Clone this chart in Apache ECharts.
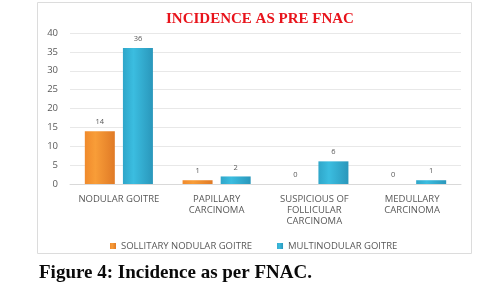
<!DOCTYPE html>
<html>
<head>
<meta charset="utf-8">
<script src="https://cdn.jsdelivr.net/npm/echarts@6/dist/echarts.min.js"></script>
<style>
  html, body { margin: 0; padding: 0; background: #fff; }
  #main { width: 502px; height: 307px; }
</style>
</head>
<body>
<div id="main"></div>
<script>
// values
var categories = ['NODULAR GOITRE', 'PAPILLARY\nCARCINOMA', 'SUSPICIOUS OF\nFOLLICULAR\nCARCINOMA', 'MEDULLARY\nCARCINOMA'];
var solitary = [14, 1, 0, 0];
var multinodular = [36, 2, 6, 1];
var seriesNames = ['SOLLITARY NODULAR GOITRE', 'MULTINODULAR GOITRE'];
var yMax = 40;
var yStep = 5;

var orangeFill = new echarts.graphic.LinearGradient(0, 0, 1, 0, [
  {offset: 0, color: '#f08a2c'},
  {offset: 0.35, color: '#f89d38'},
  {offset: 1, color: '#e07a26'}
]);
var blueFill = new echarts.graphic.LinearGradient(0, 0, 1, 0, [
  {offset: 0, color: '#2fa6c9'},
  {offset: 0.35, color: '#3bbde0'},
  {offset: 1, color: '#2a97bb'}
]);

var labelStyle = {show: true, position: 'top', distance: 5, fontSize: 7.5, color: '#595959', fontFamily: 'Open Sans'};

var option = {
  backgroundColor: '#fff',
  animation: false,
  title: {
    text: 'INCIDENCE AS PRE FNAC',
    left: 161,
    top: 7,
    textStyle: {fontFamily: 'Liberation Serif', fontWeight: 'bold', fontSize: 15, color: '#e8141c'}
  },
  legend: {
    data: seriesNames,
    top: 236,
    left: 105,
    itemWidth: 6,
    itemHeight: 6,
    itemGap: 25,
    icon: 'rect',
    textStyle: {fontSize: 9.5, color: '#595959', fontFamily: 'Open Sans'}
  },
  grid: {left: 70, right: 41, top: 33, bottom: 123, containLabel: false},
  xAxis: {
    type: 'category',
    data: categories,
    axisLine: {lineStyle: {color: '#d9d9d9'}},
    axisTick: {show: false},
    axisLabel: {interval: 0, fontSize: 9.5, lineHeight: 11, margin: 10, color: '#595959', fontFamily: 'Open Sans'}
  },
  yAxis: {
    type: 'value',
    min: 0,
    max: yMax,
    interval: yStep,
    axisLine: {show: false},
    axisTick: {show: false},
    axisLabel: {fontSize: 9.5, margin: 12, color: '#595959', fontFamily: 'Open Sans'},
    splitLine: {lineStyle: {color: '#e8e8e8'}}
  },
  series: [
    {
      name: seriesNames[0],
      type: 'bar',
      data: solitary,
      barWidth: 30,
      barGap: '27%',
      itemStyle: {color: orangeFill},
      label: labelStyle
    },
    {
      name: seriesNames[1],
      type: 'bar',
      data: multinodular,
      barWidth: 30,
      itemStyle: {color: blueFill},
      label: labelStyle
    }
  ],
  color: ['#f08a2c', '#35b2d6'],
  graphic: [
    {
      type: 'rect',
      shape: {x: 37.5, y: 2.5, width: 434, height: 251},
      style: {fill: 'none', stroke: '#dcdcdc', lineWidth: 1},
      silent: true,
      z: -1
    },
    {
      type: 'text',
      left: 39,
      top: 264,
      style: {text: 'Figure 4: Incidence as per FNAC.', font: 'bold 19px "Liberation Serif"', fill: '#0a0a0a'}
    }
  ]
};

var myChart = echarts.init(document.getElementById('main'));
myChart.setOption(option);
</script>
</body>
</html>
